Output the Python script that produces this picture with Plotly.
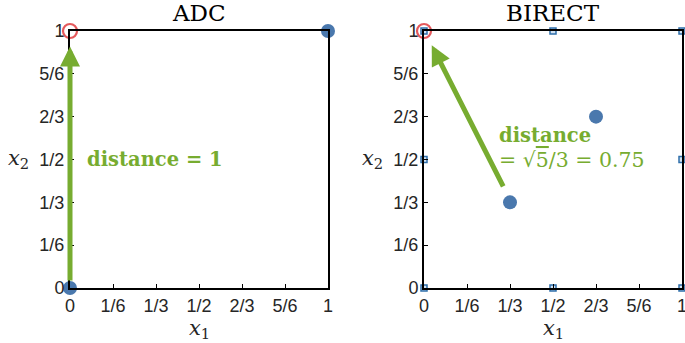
import plotly.graph_objects as go

# ---- data ----
tick_vals = [0, 1/6, 1/3, 1/2, 2/3, 5/6, 1]
tick_text = ["0", "1/6", "1/3", "1/2", "2/3", "5/6", "1"]

adc_pts_x = [0, 1]
adc_pts_y = [0, 1]
adc_best_x = [0]
adc_best_y = [1]
adc_arrow_tail = (0, 0)
adc_arrow_head = (0, 0.94)

birect_pts_x = [1/3, 2/3]
birect_pts_y = [1/3, 2/3]
birect_sq_x = [0, 0.5, 1, 0, 1, 0, 0.5, 1]
birect_sq_y = [0, 0, 0, 0.5, 0.5, 1, 1, 1]
birect_best_x = [0]
birect_best_y = [1]
birect_arrow_tail = (0.31, 0.39)
birect_arrow_head = (0.03, 0.945)

BLUE = "#4a78ad"
RED = "#e4595c"
GREEN = "#77ac30"
SQ_EDGE = "#2f6fab"
SQ_FILL = "#d3e3f3"

fig = go.Figure()

# ADC panel
fig.add_trace(go.Scatter(x=adc_pts_x, y=adc_pts_y, mode="markers", xaxis="x", yaxis="y",
                         marker=dict(size=14, color=BLUE), cliponaxis=False, showlegend=False))
fig.add_trace(go.Scatter(x=adc_best_x, y=adc_best_y, mode="markers", xaxis="x", yaxis="y",
                         marker=dict(size=14, color="rgba(0,0,0,0)", line=dict(color=RED, width=2.2)),
                         cliponaxis=False, showlegend=False))

# BIRECT panel
fig.add_trace(go.Scatter(x=birect_sq_x, y=birect_sq_y, mode="markers", xaxis="x2", yaxis="y2",
                         marker=dict(size=6, symbol="square", color=SQ_FILL, line=dict(color=SQ_EDGE, width=1.5)),
                         cliponaxis=False, showlegend=False))
fig.add_trace(go.Scatter(x=birect_pts_x, y=birect_pts_y, mode="markers", xaxis="x2", yaxis="y2",
                         marker=dict(size=14, color=BLUE), cliponaxis=False, showlegend=False))
fig.add_trace(go.Scatter(x=birect_best_x, y=birect_best_y, mode="markers", xaxis="x2", yaxis="y2",
                         marker=dict(size=14, color="rgba(0,0,0,0)", line=dict(color=RED, width=2.2)),
                         cliponaxis=False, showlegend=False))

y_top = 1 - 31 / 343
y_bot = 1 - 288 / 343

axis_common = dict(range=[0, 1], tickvals=tick_vals, ticktext=tick_text, ticks="inside",
                   ticklen=4, tickwidth=1, tickcolor="black", showline=True, linewidth=2,
                   linecolor="black", mirror=True, showgrid=False, zeroline=False,
                   automargin=False, ticklabeloverflow="allow",
                   tickfont=dict(family="Liberation Sans", size=18, color="#262626"))

fig.update_layout(
    width=685, height=343,
    margin=dict(l=0, r=0, t=0, b=0, autoexpand=False),
    paper_bgcolor="white", plot_bgcolor="white",
    xaxis=dict(domain=[70 / 685, 328 / 685], anchor="y", **axis_common),
    yaxis=dict(domain=[y_bot, y_top], anchor="x", **axis_common),
    xaxis2=dict(domain=[424 / 685, 682 / 685], anchor="y2", **axis_common),
    yaxis2=dict(domain=[y_bot, y_top], anchor="x2", **axis_common),
)

serif = "DejaVu Serif"
ann = []
# arrows
ann.append(dict(x=adc_arrow_head[0], y=adc_arrow_head[1], ax=adc_arrow_tail[0], ay=adc_arrow_tail[1],
                xref="x", yref="y", axref="x", ayref="y", text="", showarrow=True,
                arrowhead=2, arrowsize=0.8, arrowwidth=5, arrowcolor=GREEN, startstandoff=6))
ann.append(dict(x=birect_arrow_head[0], y=birect_arrow_head[1], ax=birect_arrow_tail[0], ay=birect_arrow_tail[1],
                xref="x2", yref="y2", axref="x2", ayref="y2", text="", showarrow=True,
                arrowhead=2, arrowsize=0.8, arrowwidth=5, arrowcolor=GREEN))
# texts
ann.append(dict(x=0.058, y=0.5, xref="x", yref="y", text="<b>distance = 1</b>", showarrow=False,
                xanchor="left", yanchor="middle", font=dict(family=serif, size=19.5, color=GREEN)))
ann.append(dict(x=0.282, y=0.595, xref="x2", yref="y2", text="<b>distance</b>", showarrow=False,
                xanchor="left", yanchor="middle", font=dict(family=serif, size=19.5, color=GREEN)))
ann.append(dict(x=0.282, y=0.497, xref="x2", yref="y2",
                text="= √<span style='text-decoration:overline'>5</span>/3 = 0.75", showarrow=False,
                xanchor="left", yanchor="middle", font=dict(family=serif, size=20.5, color=GREEN)))
# titles
ann.append(dict(x=199 / 685, y=1 - 13 / 343, xref="paper", yref="paper", text="ADC", showarrow=False,
                xanchor="center", yanchor="middle", font=dict(family=serif, size=23, color="black")))
ann.append(dict(x=553 / 685, y=1 - 13 / 343, xref="paper", yref="paper", text="BIRECT", showarrow=False,
                xanchor="center", yanchor="middle", font=dict(family=serif, size=23, color="black")))
# axis labels
for xc in (199, 553):
    ann.append(dict(x=xc / 685, y=1 - 329 / 343, xref="paper", yref="paper", text="<i>x</i><sub>1</sub>",
                    showarrow=False, xanchor="center", yanchor="middle",
                    font=dict(family=serif, size=21, color="#262626")))
for xc in (18, 372):
    ann.append(dict(x=xc / 685, y=1 - 159 / 343, xref="paper", yref="paper", text="<i>x</i><sub>2</sub>",
                    showarrow=False, xanchor="center", yanchor="middle",
                    font=dict(family=serif, size=21, color="#262626")))

fig.update_layout(annotations=ann)
fig.write_html("out.html", config={"displayModeBar": False},
               post_script="document.body.style.margin='0';")
